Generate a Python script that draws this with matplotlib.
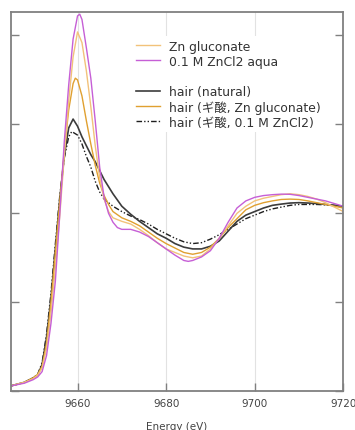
import matplotlib
matplotlib.use("Agg")
import matplotlib.pyplot as plt
from matplotlib.lines import Line2D

plt.rcParams['font.family'] = ['DejaVu Sans', 'Noto Sans CJK JP']

# ---- data (energy in eV, normalized absorption) ----
E_aqua = [9645, 9648, 9650, 9651, 9652, 9653, 9654, 9655, 9656, 9657, 9658, 9659,
          9660, 9660.5, 9661, 9662, 9663, 9664, 9665, 9666, 9667, 9668, 9669, 9670,
          9672, 9674, 9676, 9678, 9680, 9682, 9684, 9685, 9686, 9688, 9690, 9692,
          9694, 9696, 9698, 9700, 9702, 9704, 9706, 9708, 9710, 9712, 9714, 9716,
          9718, 9720]
mu_aqua = [0.03, 0.045, 0.065, 0.08, 0.11, 0.20, 0.38, 0.62, 1.00, 1.40, 1.72, 1.98,
           2.11, 2.12, 2.09, 1.93, 1.76, 1.52, 1.26, 1.09, 1.00, 0.95, 0.92, 0.91,
           0.91, 0.895, 0.87, 0.835, 0.80, 0.765, 0.735, 0.73, 0.735, 0.755, 0.79, 0.86,
           0.95, 1.03, 1.07, 1.09, 1.10, 1.105, 1.108, 1.107, 1.10, 1.09, 1.08, 1.07,
           1.055, 1.04]

E_glu = [9645, 9648, 9650, 9651, 9652, 9653, 9654, 9655, 9656, 9657, 9658, 9659,
         9660, 9661, 9662, 9663, 9664, 9665, 9666, 9667, 9668, 9670, 9672, 9674,
         9676, 9678, 9680, 9682, 9684, 9686, 9688, 9690, 9692, 9694, 9696, 9698,
         9700, 9702, 9704, 9706, 9708, 9710, 9712, 9714, 9716, 9718, 9720]
mu_glu = [0.03, 0.05, 0.07, 0.09, 0.13, 0.24, 0.44, 0.70, 0.99, 1.32, 1.63, 1.88,
          2.02, 1.96, 1.80, 1.60, 1.38, 1.20, 1.08, 1.01, 0.975, 0.955, 0.94, 0.91,
          0.875, 0.835, 0.80, 0.78, 0.76, 0.75, 0.76, 0.80, 0.86, 0.93, 1.00, 1.04,
          1.07, 1.085, 1.095, 1.105, 1.11, 1.105, 1.095, 1.08, 1.06, 1.035, 1.01]

E_hair_glu = [9645, 9648, 9650, 9651, 9652, 9653, 9654, 9655, 9656, 9657, 9658, 9659,
              9659.5, 9660, 9661, 9662, 9663, 9664, 9665, 9666, 9667, 9668, 9670, 9672,
              9674, 9676, 9678, 9680, 9682, 9684, 9686, 9688, 9690, 9692, 9694, 9696,
              9698, 9700, 9702, 9704, 9706, 9708, 9710, 9712, 9714, 9716, 9718, 9720]
mu_hair_glu = [0.03, 0.05, 0.075, 0.095, 0.14, 0.27, 0.50, 0.78, 1.07, 1.35, 1.58, 1.73,
               1.76, 1.75, 1.66, 1.52, 1.39, 1.27, 1.17, 1.10, 1.05, 1.01, 0.975, 0.955,
               0.93, 0.895, 0.86, 0.83, 0.805, 0.78, 0.77, 0.78, 0.81, 0.86, 0.92, 0.97,
               1.02, 1.045, 1.06, 1.07, 1.078, 1.08, 1.078, 1.07, 1.06, 1.05, 1.04, 1.03]

E_nat = [9645, 9648, 9650, 9651, 9652, 9653, 9654, 9655, 9656, 9657, 9658, 9659,
         9660, 9661, 9662, 9663, 9664, 9665, 9666, 9667, 9668, 9670, 9672, 9674,
         9676, 9678, 9680, 9682, 9684, 9686, 9688, 9690, 9692, 9694, 9696, 9698,
         9700, 9702, 9704, 9706, 9708, 9710, 9712, 9714, 9716, 9718, 9720]
mu_nat = [0.03, 0.05, 0.075, 0.09, 0.15, 0.30, 0.52, 0.80, 1.08, 1.32, 1.48, 1.53,
          1.49, 1.43, 1.38, 1.33, 1.29, 1.24, 1.19, 1.15, 1.11, 1.04, 0.995, 0.955,
          0.92, 0.885, 0.86, 0.83, 0.81, 0.80, 0.80, 0.815, 0.845, 0.90, 0.955, 0.99,
          1.01, 1.03, 1.045, 1.052, 1.058, 1.06, 1.058, 1.055, 1.05, 1.045, 1.04]

E_hair_cl = [9645, 9648, 9650, 9651, 9652, 9653, 9654, 9655, 9656, 9657, 9658, 9658.7,
             9660, 9661, 9662, 9663, 9664, 9665, 9666, 9668, 9670, 9672, 9674, 9676,
             9678, 9680, 9682, 9684, 9686, 9688, 9690, 9692, 9694, 9696, 9698, 9700,
             9702, 9704, 9706, 9708, 9710, 9712, 9714, 9716, 9718, 9720]
mu_hair_cl = [0.03, 0.05, 0.075, 0.095, 0.16, 0.32, 0.55, 0.83, 1.10, 1.31, 1.43, 1.46,
              1.44, 1.39, 1.32, 1.26, 1.18, 1.12, 1.08, 1.04, 1.01, 0.985, 0.965, 0.94,
              0.91, 0.885, 0.86, 0.84, 0.83, 0.835, 0.855, 0.88, 0.91, 0.94, 0.97, 0.99,
              1.01, 1.025, 1.035, 1.045, 1.05, 1.05, 1.05, 1.048, 1.045, 1.04]

labels = ['Zn gluconate', '0.1 M ZnCl2 aqua',
          'hair (natural)', 'hair (ギ酸, Zn gluconate)', 'hair (ギ酸, 0.1 M ZnCl2)']
xticks = [9660, 9680, 9700, 9720]
yticks = [0, 0.5, 1.0, 1.5, 2.0]

c_glu = '#f2c27a'
c_aqua = '#c65fd6'
c_nat = '#3c3c3c'
c_hglu = '#e0a030'
c_hcl = '#1e1e1e'
dashdot = (4, 1.5, 1, 1.5, 1, 1.5)

fig = plt.figure(figsize=(3.55, 4.31), dpi=100)
ax = fig.add_axes([0.030, 0.090, 0.937, 0.879])

for x in xticks[:-1]:
    ax.axvline(x, color='#e2e2e2', lw=0.8, zorder=0)

ax.plot(E_hair_cl, mu_hair_cl, color=c_hcl, lw=1.0, dashes=dashdot)
ax.plot(E_nat, mu_nat, color=c_nat, lw=1.2)
ax.plot(E_hair_glu, mu_hair_glu, color=c_hglu, lw=1.0)
ax.plot(E_glu, mu_glu, color=c_glu, lw=1.0)
ax.plot(E_aqua, mu_aqua, color=c_aqua, lw=1.0)

blank = Line2D([], [], color='none')
handles = [Line2D([], [], color=c_glu, lw=1.0),
           Line2D([], [], color=c_aqua, lw=1.0),
           blank,
           Line2D([], [], color=c_nat, lw=1.2),
           Line2D([], [], color=c_hglu, lw=1.0),
           Line2D([], [], color=c_hcl, lw=1.0, dashes=dashdot)]
leg = ax.legend(handles, [labels[0], labels[1], ' ', labels[2], labels[3], labels[4]],
                loc='upper left', bbox_to_anchor=(0.347, 0.954),
                frameon=True, facecolor='white', edgecolor='none', framealpha=1,
                fontsize=8.9, handlelength=1.95, handletextpad=0.7,
                labelspacing=0.17, borderpad=0.3)
for t in leg.get_texts():
    t.set_color('#333333')

ax.set_xlim(9644.9, 9720)
ax.set_ylim(0, 2.13)
ax.set_xticks(xticks)
ax.set_yticks(yticks)
ax.set_yticklabels([])
ax.tick_params(axis='both', direction='in', length=6, width=1, color='#808080',
               labelcolor='#444444', labelsize=7.5, pad=5)
ax.tick_params(axis='y', left=True, right=True)
for s in ax.spines.values():
    s.set_color('#808080')
    s.set_linewidth(1.3)

ax.set_xlabel('Energy (eV)', fontsize=7.5, color='#444444', labelpad=9)

fig.savefig('out.png', dpi=100)
